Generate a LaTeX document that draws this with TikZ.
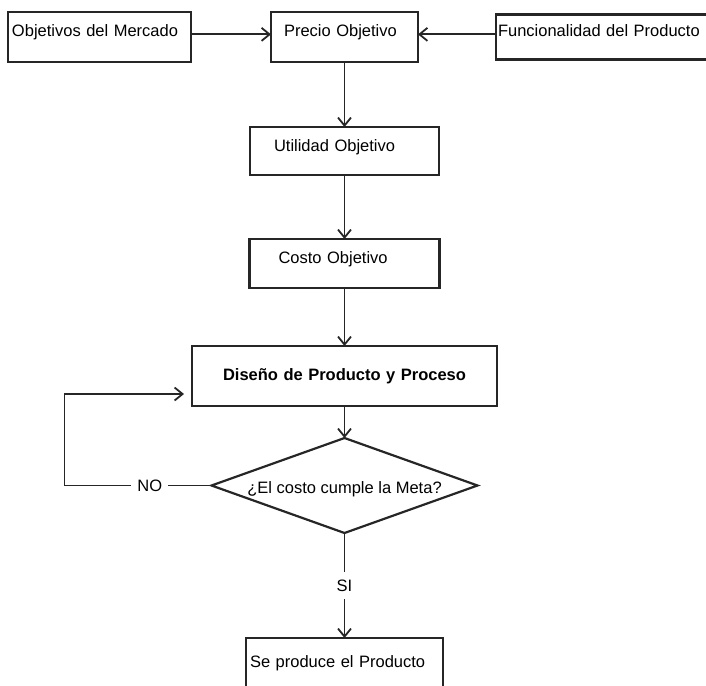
\documentclass[tikz,border=0pt]{standalone}
\usepackage{fontspec}
\setmainfont{Liberation Sans}
\usetikzlibrary{positioning,shapes.geometric,arrows.meta}
\definecolor{linea}{HTML}{262626}

\begin{document}
\begin{tikzpicture}[>={Straight Barb[length=8pt,width=13pt]},font=\fontsize{16.5}{20}\selectfont,
	caja/.style={draw=linea,line width=2.5pt,outer sep=0pt,inner ysep=0pt,align=left,text height=0pt,text depth=0pt,minimum height=50pt},
	rombo/.style={diamond,aspect=2.8,draw=linea,line width=2.2pt,outer sep=0pt,inner sep=0pt,minimum width=266pt,minimum height=95pt,text height=16pt,text depth=0pt},
	flecha/.style={draw=linea,line width=1.8pt,->}]

	\useasboundingbox (0,0) rectangle (706pt,-685pt);

	%Fila superior
	\node[caja,text width=175pt,inner xsep=4pt] (objetivos) at (99.5pt,-37pt) {Objetivos del Mercado};
	\node[caja,text width=121pt,inner xsep=13pt,right = 80pt of objetivos] (precio) {Precio Objetivo};
	\node[caja,text width=220pt,inner xsep=2pt,minimum height=45pt,right = 78pt of precio] (funcionalidad) {Funcionalidad del Producto};

	%Cadena vertical
	\node[caja,text width=141pt,inner xsep=24pt,minimum height=48pt,below = 65pt of precio] (utilidad) {Utilidad Objetivo};
	\node[caja,text width=132pt,inner xsep=29pt,minimum height=49pt,below = 64pt of utilidad] (costo) {Costo Objetivo};
	\node[caja,text width=297pt,inner xsep=4pt,minimum height=60pt,align=center,text height=34pt,text depth=26pt,below = 58pt of costo] (diseno) {\bfseries Diseño de Producto y Proceso};
	\node[rombo,below = 32pt of diseno] (decision) {¿El costo cumple la Meta?};
	\node[caja,text width=189pt,inner xsep=4pt,minimum height=58pt,below = 105pt of decision] (produce) {Se produce el Producto};

	%Conectores
	\coordinate[left = 147pt of decision.west] (esquina);
	\coordinate[below left = 18pt and 8pt of diseno.west] (reentrada);

	\draw[flecha] (objetivos.mid east) -- (precio.mid west);
	\draw[flecha] (funcionalidad.mid west) -- (precio.mid east);
	\draw[flecha] (precio) -- (utilidad);
	\draw[flecha] (utilidad) -- (costo);
	\draw[flecha] (costo) -- (diseno);
	\draw[flecha] (diseno) -- (decision);
	\draw[flecha] (decision) -- node[fill=white,inner ysep=8pt]{SI} (produce);
	\draw[flecha] (decision.west) -- node[pos=0.42,fill=white,inner xsep=6pt]{NO} (esquina) |- (reentrada);

\end{tikzpicture}
\end{document}
